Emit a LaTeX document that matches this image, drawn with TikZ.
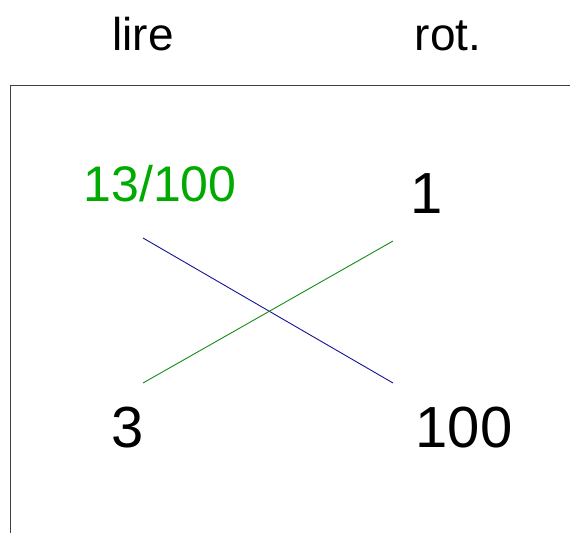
\documentclass[tikz,border=0pt]{standalone}
\usepackage{fontspec}
\setmainfont{Liberation Sans}
\usetikzlibrary{positioning}
\definecolor{ratiogreen}{RGB}{0,170,0}
\definecolor{linegreen}{RGB}{20,140,20}
\definecolor{lineblue}{RGB}{20,20,150}

\begin{document}
\begin{tikzpicture}[
  x=1pt,y=-1pt,
  head/.style={anchor=base,font=\fontsize{46}{50}\selectfont},
  num/.style={anchor=base,font=\fontsize{58}{62}\selectfont},
  ratio/.style={anchor=base,font=\fontsize{50}{54}\selectfont,text=ratiogreen},
  frame/.style={draw=black!75,line width=1pt},
  cross/.style={line width=0.9pt}
]
\useasboundingbox (0,0) rectangle (570,533);

\node[head] (lire) at (143,50) {lire};
\node[head] (rot) at (448,50) {rot.};

\draw[frame] (570,85) -- (10,85) -- (10,533);

\node[ratio] (frac) at (160,201) {13/100};
\node[num] (one) at (427,213) {1};
\node[num] (three) at (128,447) {3};
\node[num] (hundred) at (464,447) {100};

\coordinate (tl) at (143,238);
\coordinate (tr) at (393,241);
\coordinate (bl) at (143,383);
\coordinate (br) at (393,383);

\draw[cross,lineblue] (tl) -- (br);
\draw[cross,linegreen] (bl) -- (tr);
\end{tikzpicture}
\end{document}
